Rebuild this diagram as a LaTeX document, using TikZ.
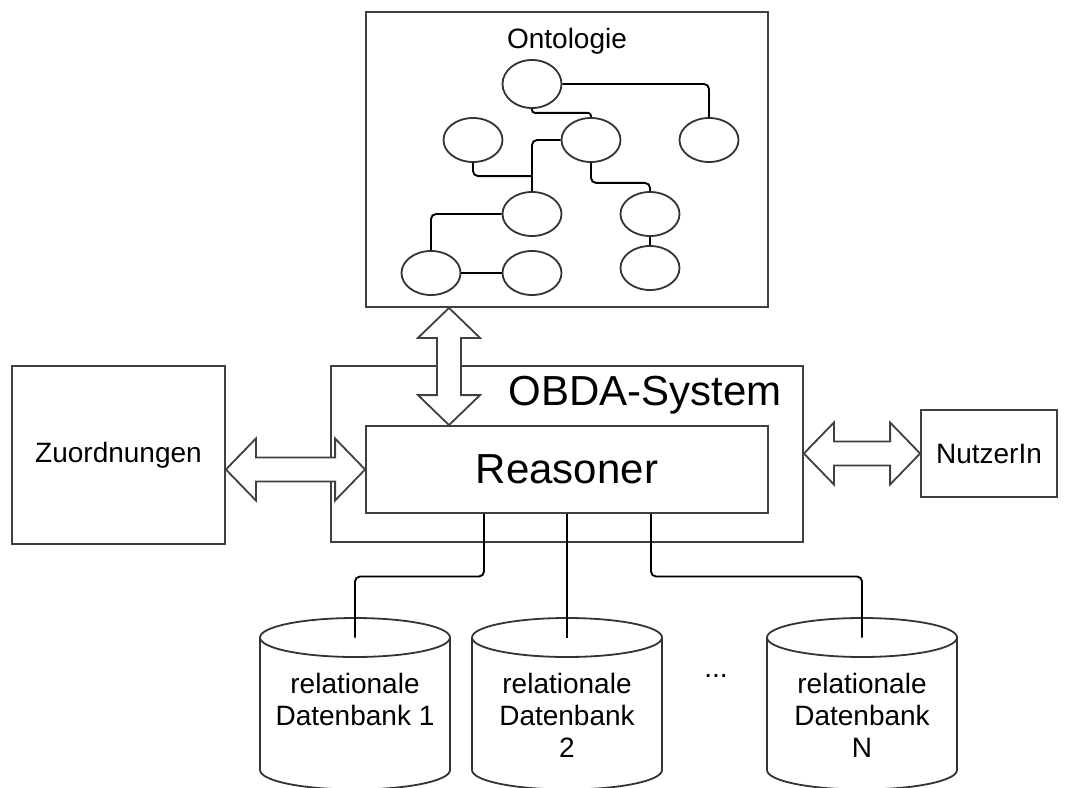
\documentclass[tikz,border=0pt]{standalone}
\usepackage{fontspec}
\setmainfont{Liberation Sans}
\usetikzlibrary{calc,shapes.geometric}
\def\dbshape(#1){\draw[cyl] ($(#1)+(-95,0)$) -- ($(#1)+(-95,132.5)$) arc (180:360:95pt and 19.5pt) -- ($(#1)+(95,0)$); \draw[cyl] (#1) ellipse (95pt and 19.5pt);}
\def\hbigarrow(#1)(#2){\draw[bigarrow] (#1) -- +(30,-31) -- +(30,-12) -- ($(#2)+(-30,-12)$) -- +(0,-19) -- (#2) -- +(-30,31) -- +(-30,12) -- ($(#1)+(30,12)$) -- +(0,19) -- cycle;}
\def\vbigarrow(#1)(#2){\draw[bigarrow] (#1) -- +(31,30) -- +(12,30) -- ($(#2)+(12,-30)$) -- +(19,0) -- (#2) -- +(-31,-30) -- +(-12,-30) -- ($(#1)+(-12,30)$) -- +(-19,0) -- cycle;}

\begin{document}
\begin{tikzpicture}[x=1pt, y=-1pt,
	box/.style={draw=black!75, line width=1.8pt, inner sep=0pt},
	lbl/.style={font=\fontsize{28}{32}\selectfont},
	big/.style={font=\fontsize{42}{46}\selectfont},
	onode/.style={ellipse, draw=black!80, line width=1.8pt, minimum width=59pt, minimum height=44pt, inner sep=0pt},
	link/.style={line width=1.9pt, rounded corners=5pt},
	bigarrow/.style={draw=black!75, fill=white, line width=1.8pt, line join=miter},
	cyl/.style={draw=black!80, line width=1.8pt},
	dbtext/.style={lbl, align=center, anchor=north, inner sep=0pt}]
		%%%%% FRAME %%%%%
		\useasboundingbox (0,0) rectangle (1067,787);
		
		%%%%% Ontologie %%%%%
		\node[box, minimum width=402pt, minimum height=295pt] (onto) at (567,159.5) {};
		\node[lbl, anchor=base] (ontotitle) at (567,48) {Ontologie};
		
		\node[onode, minimum height=48pt] (oroot) at (532,84) {};
		\node[onode] (oright) at (709,140) {};
		\node[onode] (oleft) at (473,140) {};
		\node[onode] (omid) at (591,140) {};
		\node[onode] (oc) at (532,214) {};
		\node[onode] (od) at (650,214) {};
		\node[onode] (obl) at (431,273) {};
		\node[onode] (obm) at (532,273) {};
		\node[onode] (obr) at (650,268) {};
		
		\draw[link] (oroot.east) -| (oright.north);
		\draw[link, rounded corners=3pt] (oroot.south) -- ++(0,4) -| (omid.north);
		\draw[link] (omid.west) -| (oc.north);
		\draw[link] (oleft.south) |- ([yshift=15pt]oc.north);
		\draw[link] (omid.south) -- ++(0,20) -| (od.north);
		\draw[link] (oc.west) -| (obl.north);
		\draw[link] (obl) -- (obm);
		\draw[link] (od) -- (obr);
		
		%%%%% OBDA %%%%%
		\node[box, minimum width=472pt, minimum height=176pt] (obda) at (567,454) {};
		\node[big, anchor=base] (obdatitle) at (645,405) {OBDA-System};
		\node[box, big, minimum width=402pt, minimum height=87pt] (reasoner) at (567,469.5) {Reasoner};
		
		\node[box, lbl, minimum width=213pt, minimum height=178pt] (zuord) at (118.5,455) {Zuordnungen};
		\node[box, lbl, minimum width=136pt, minimum height=87pt] (nutzer) at (989,453.5) {NutzerIn};
		
		\coordinate (vtop) at ([xshift=-118pt]onto.south);
		\coordinate (vbot) at ([xshift=-118pt]reasoner.north);
		\coordinate (zarr) at (zuord.east |- reasoner.west);
		\coordinate (narr) at (obda.east |- nutzer.west);
		
		\vbigarrow(vtop)(vbot)
		\hbigarrow(zarr)(reasoner.west)
		\hbigarrow(narr)(nutzer.west)
		
		%%%%% Datenbanken %%%%%
		\coordinate (db1top) at (355,637.5);
		\coordinate (db2top) at (567,637.5);
		\coordinate (dbntop) at (862,637.5);
		\dbshape(db1top)
		\dbshape(db2top)
		\dbshape(dbntop)
		
		\node[dbtext] (db1) at (355,673) {relationale\\Datenbank 1};
		\node[dbtext] (db2) at (567,673) {relationale\\Datenbank\\2};
		\node[dbtext] (dbn) at (862,673) {relationale\\Datenbank\\N};
		\node[lbl, anchor=base] (dots) at (716,677) {...};
		
		\draw[link] ([xshift=-83pt]reasoner.south) |- ([yshift=61pt]db1top) -- (db1top);
		\draw[link] (reasoner.south) -- (db2top);
		\draw[link] ([xshift=84pt]reasoner.south) |- ([yshift=61pt]dbntop) -- (dbntop);
		
		%%%%% END %%%%%
	\end{tikzpicture}
\end{document}
